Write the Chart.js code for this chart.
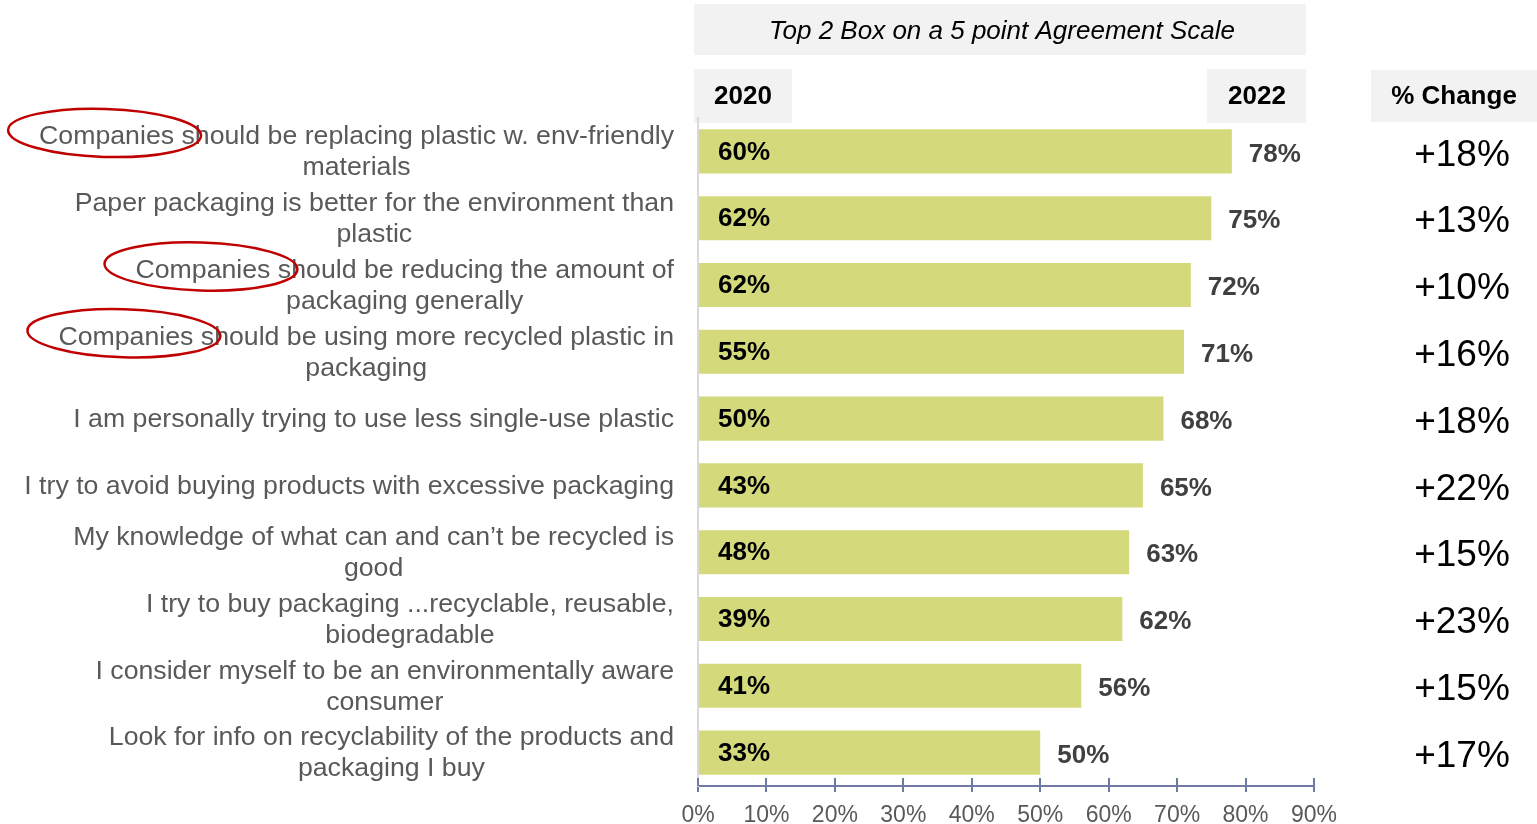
<!DOCTYPE html>
<html>
<head>
<meta charset="utf-8">
<script src="https://cdn.jsdelivr.net/npm/chart.js@4.4.1/dist/chart.umd.min.js"></script>
<style>
  html, body { margin: 0; padding: 0; background: #fff; }
  #wrap { position: relative; width: 1537px; height: 824px; }
</style>
</head>
<body>
<div id="wrap"><canvas id="chart"></canvas></div>
<script>
// Statements, one entry per bar (lines as they wrap)
const categories = [
    ["Companies should be replacing plastic w. env-friendly", "materials"],
    ["Paper packaging is better for the environment than", "plastic"],
    ["Companies should be reducing the amount of", "packaging generally"],
    ["Companies should be using more recycled plastic in", "packaging"],
    ["I am personally trying to use less single-use plastic"],
    ["I try to avoid buying products with excessive packaging"],
    ["My knowledge of what can and can\u2019t be recycled is", "good"],
    ["I try to buy packaging ...recyclable, reusable,", "biodegradable"],
    ["I consider myself to be an environmentally aware", "consumer"],
    ["Look for info on recyclability of the products and", "packaging I buy"]
];
const values2020 = [60, 62, 62, 55, 50, 43, 48, 39, 41, 33];
const values2022 = [78, 75, 72, 71, 68, 65, 63, 62, 56, 50];
// statements where the word "Companies" gets circled
const circled = [0, 2, 3];

const FONT = "'Liberation Sans', Arial, sans-serif";
const BAR_COLOR = "#d4da7c";

const overlay = {
    id: "overlay",
    beforeDraw(chart) {
        const ctx = chart.ctx;
        const left = chart.chartArea.left;
        const right = chart.chartArea.right;
        ctx.save();
        // header boxes
        ctx.fillStyle = "#f2f2f2";
        ctx.fillRect(left - 4, 4, right - left - 4, 51);
        ctx.fillRect(left - 4, 69, 98, 54);
        ctx.fillRect(right - 107, 69, 99, 54);
        ctx.fillRect(1371, 70, 166, 52);

        ctx.fillStyle = "#000";
        ctx.textBaseline = "middle";
        ctx.textAlign = "center";
        ctx.font = `italic 26px ${FONT}`;
        ctx.fillText("Top 2 Box on a 5 point Agreement Scale", (left + right - 8) / 2, 32);
        ctx.font = `bold 26px ${FONT}`;
        ctx.fillText("2020", left + 45, 97);
        ctx.fillText("2022", right - 57, 97);
        ctx.fillText("% Change", 1454, 97);
        ctx.restore();
    },
    afterDraw(chart) {
        const ctx = chart.ctx;
        const xs = chart.scales.x;
        const meta = chart.getDatasetMeta(0);
        ctx.save();

        // upper half of the axis tick marks
        const axisY = chart.chartArea.bottom;
        ctx.strokeStyle = "#6f7aa3";
        ctx.lineWidth = 2;
        xs.ticks.forEach(t => {
            const px = Math.round(xs.getPixelForValue(t.value));
            ctx.beginPath();
            ctx.moveTo(px, axisY - 8);
            ctx.lineTo(px, axisY);
            ctx.stroke();
        });

        ctx.textBaseline = "middle";
        meta.data.forEach((bar, i) => {
            const cy = bar.y;

            // 2020 value inside the bar
            ctx.textAlign = "left";
            ctx.fillStyle = "#000";
            ctx.font = `bold 26px ${FONT}`;
            ctx.fillText(values2020[i] + "%", xs.getPixelForValue(0) + 20, cy + 1);

            // 2022 value after the bar end
            ctx.fillStyle = "#404040";
            ctx.fillText(values2022[i] + "%", bar.x + 17, cy + 3);

            // change column
            ctx.textAlign = "center";
            ctx.fillStyle = "#000";
            ctx.font = `37px ${FONT}`;
            const diff = values2022[i] - values2020[i];
            ctx.fillText((diff >= 0 ? "+" : "") + diff + "%", 1462, cy + 4);

            // statement text, block right-aligned, lines centred
            const lines = categories[i];
            ctx.font = `26.7px ${FONT}`;
            ctx.fillStyle = "#595959";
            const widths = lines.map(l => ctx.measureText(l).width);
            const blockW = Math.max(...widths);
            const blockRight = 674;
            const mid = blockRight - blockW / 2;
            const lh = 31;
            const top = cy + 1 - (lines.length - 1) * lh / 2;
            lines.forEach((l, k) => ctx.fillText(l, mid, top + k * lh));

            if (circled.includes(i)) {
                const startX = mid - widths[0] / 2;
                const wordW = ctx.measureText("Companies").width;
                ctx.strokeStyle = "#c00000";
                ctx.lineWidth = 2.5;
                ctx.beginPath();
                ctx.ellipse(startX + wordW / 2 - 2, top - 4, wordW / 2 + 29, 24, 0.03, 0, Math.PI * 2);
                ctx.stroke();
            }
        });
        ctx.restore();
    }
};

new Chart(document.getElementById("chart"), {
    type: "bar",
    data: {
        labels: categories.map(c => c.join(" ")),
        datasets: [{
            label: "2022",
            data: values2022,
            backgroundColor: BAR_COLOR,
            barPercentage: 0.66,
            categoryPercentage: 1
        }]
    },
    options: {
        indexAxis: "y",
        responsive: true,
        maintainAspectRatio: false,
        animation: false,
        layout: { padding: { left: 698, right: 223, top: 118, bottom: 0 } },
        plugins: {
            legend: { display: false },
            tooltip: { enabled: false }
        },
        scales: {
            x: {
                min: 0,
                max: 90,
                ticks: {
                    stepSize: 10,
                    padding: 10,
                    color: "#595959",
                    font: { family: FONT, size: 23 },
                    callback: v => v + "%"
                },
                grid: {
                    drawOnChartArea: false,
                    drawTicks: true,
                    tickLength: 6,
                    color: "#6f7aa3",
                    lineWidth: 2
                },
                border: { display: true, color: "#6f7aa3", width: 2 },
                afterFit(scale) { scale.height = 38; }
            },
            y: {
                ticks: { display: false },
                grid: { display: false },
                border: { display: true, color: "#d9d9d9", width: 2 },
                afterFit(scale) { scale.width = 0; }
            }
        }
    },
    plugins: [overlay]
});
</script>
</body>
</html>
